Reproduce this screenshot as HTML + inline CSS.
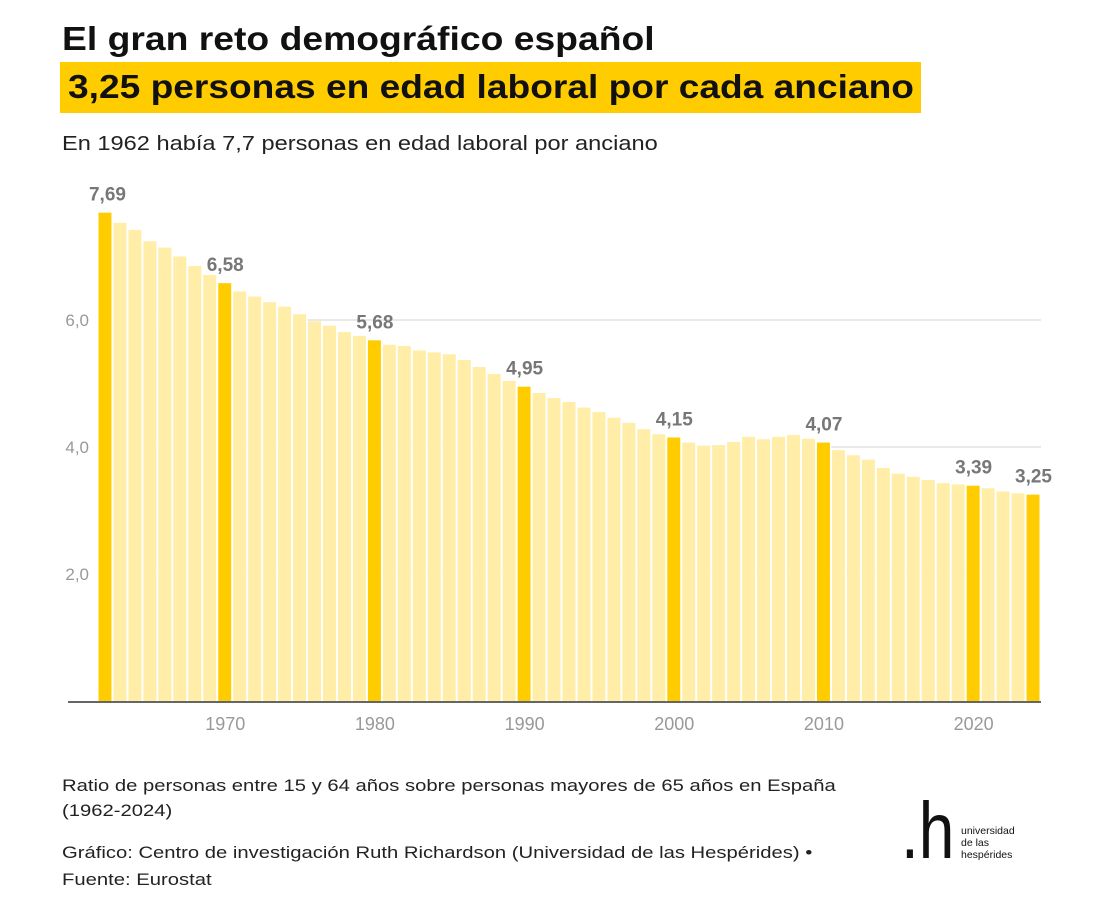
<!DOCTYPE html>
<html><head><meta charset="utf-8">
<style>
body{margin:0;background:#fff;font-family:"Liberation Sans","DejaVu Sans",sans-serif;}
#wrap{position:relative;width:1098px;height:906px;overflow:hidden;}
.t{position:absolute;white-space:nowrap;transform-origin:0 0;}
</style></head><body>
<div id="wrap">
<div class="t" style="left:62px;top:20px;font-size:33px;font-weight:bold;color:#111;transform:scaleX(1.13);">El gran reto demográfico español</div>
<div style="position:absolute;left:60px;top:62px;width:861px;height:51px;background:#ffcc00;"></div>
<div class="t" style="left:68px;top:68px;font-size:33px;font-weight:bold;color:#111;transform:scaleX(1.125);">3,25 personas en edad laboral por cada anciano</div>
<div class="t" style="left:62px;top:133px;font-size:20px;color:#222;transform:scaleX(1.18);">En 1962 había 7,7 personas en edad laboral por anciano</div>
<svg id="chart" width="1098" height="906" style="position:absolute;left:0;top:0;"></svg>
<div class="t" style="left:62px;top:773px;font-size:17px;color:#222;line-height:25px;transform:scaleX(1.19);">Ratio de personas entre 15 y 64 años sobre personas mayores de 65 años en España<br>(1962-2024)</div>
<div class="t" style="left:62px;top:839px;font-size:17px;color:#222;line-height:27px;transform:scaleX(1.19);">Gráfico: Centro de investigación Ruth Richardson (Universidad de las Hespérides) •<br>Fuente: Eurostat</div>
<div class="t" style="left:901px;top:786px;font-size:80px;color:#111;line-height:90px;transform:scaleX(0.8);">.h</div>
<div class="t" style="left:961px;top:825px;font-size:10.5px;color:#111;line-height:12px;">universidad<br>de las<br>hespérides</div>
</div>
<script>
const years=[];for(let y=1962;y<=2024;y++)years.push(y);
const values=[7.69,7.53,7.42,7.24,7.14,7.00,6.85,6.71,6.58,6.45,6.37,6.28,6.21,6.09,5.98,5.91,5.81,5.75,5.68,5.61,5.59,5.52,5.49,5.46,5.37,5.26,5.15,5.04,4.95,4.85,4.77,4.71,4.62,4.55,4.46,4.38,4.28,4.20,4.15,4.07,4.02,4.03,4.08,4.16,4.12,4.16,4.19,4.13,4.07,3.95,3.87,3.80,3.67,3.58,3.53,3.48,3.43,3.41,3.39,3.35,3.30,3.27,3.25];
const highlightYears=[1962,1970,1980,1990,2000,2010,2020,2024];
const yTicks=[2,4,6];
const yTickLabels=["2,0","4,0","6,0"];
const xTicks=[1970,1980,1990,2000,2010,2020];
const svg=document.getElementById('chart');const NS='http://www.w3.org/2000/svg';
const x0=98,x1=1041,yBase=701,pxPerUnit=63.5;
const step=(x1-x0)/years.length;
const xs=y=>x0+(y-years[0])*step;
const ys=v=>yBase-v*pxPerUnit;
function mk(t,a){const e=document.createElementNS(NS,t);for(const k in a)e.setAttribute(k,a[k]);svg.appendChild(e);return e;}
yTicks.forEach((v,i)=>{
 const g=mk('line',{x1:x0,x2:x1,y1:ys(v),y2:ys(v),stroke:'#e2e2e2','stroke-width':1.5});
 
 
 const t=mk('text',{x:89,y:ys(v)+6,'text-anchor':'end','font-size':17,fill:'#999','font-family':'Liberation Sans, sans-serif'});
 t.textContent=yTickLabels[i];
 
 
});
years.forEach((yr,i)=>{
 const bg=mk('rect',{x:xs(yr),y:ys(values[i]),width:step,height:yBase-ys(values[i]),fill:'#fff'});
 
 
});
years.forEach((yr,i)=>{
 const hl=highlightYears.includes(yr);
 const r=mk('rect',{x:xs(yr)+0.5,y:ys(values[i]),width:step-2,height:yBase-ys(values[i]),fill:hl?'#ffcc00':'#ffeda8'});
 
 
 if(hl){
  const t=mk('text',{x:xs(yr)+step/2+(yr===1962?2:0),y:ys(values[i])-12,'text-anchor':'middle','font-size':19,'font-weight':'bold',fill:'#777','font-family':'Liberation Sans, sans-serif'});
  t.textContent=values[i].toFixed(2).replace('.',',');
  
  
 }
});
const ax=mk('line',{x1:68,x2:x1,y1:yBase+1,y2:yBase+1,stroke:'#333','stroke-width':1.5});


xTicks.forEach(yr=>{
 const t=mk('text',{x:xs(yr)+step/2,y:730,'text-anchor':'middle','font-size':18,fill:'#999','font-family':'Liberation Sans, sans-serif'});
 t.textContent=yr;
 
 
});
</script>
</body></html>
